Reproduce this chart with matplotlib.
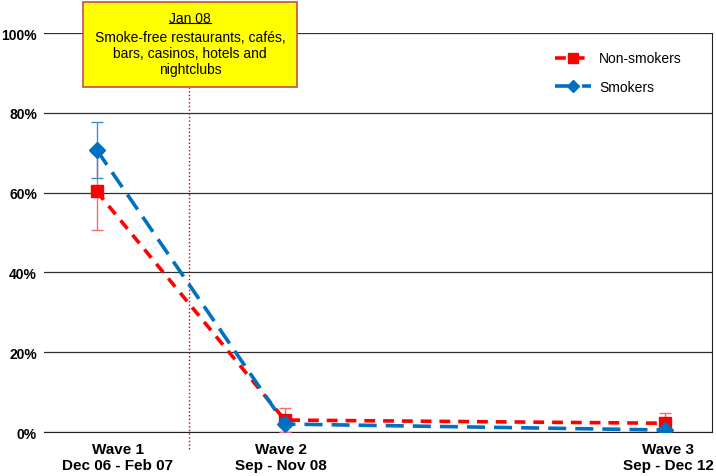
import numpy as np
import matplotlib.pyplot as plt
import matplotlib.transforms as mtransforms
from matplotlib.patches import Rectangle
from matplotlib.lines import Line2D

plt.rcParams['font.family'] = ['Liberation Sans', 'DejaVu Sans']

# survey waves (x in units of the Wave1->Wave2 gap)
wave_labels = ['Wave 1\nDec 06 - Feb 07', 'Wave 2\nSep - Nov 08', 'Wave 3\nSep - Dec 12']
wave_x = [0.0, 1.0, 3.02]
ban_x = 0.49  # Jan 08

non_smokers = [60.3, 3.0, 2.2]
non_smokers_err = [9.7, 3.0, 2.6]
smokers = [70.7, 2.0, 0.5]
smokers_err = [7.0, 0.0, 0.0]

red = '#FF0000'
blue = '#0070C0'

fig = plt.figure(figsize=(7.16, 4.77), dpi=100)
ax = fig.add_axes([0.0615, 0.0922, 0.9329, 0.8365])

ax.errorbar(wave_x, non_smokers, yerr=non_smokers_err, fmt='none',
            ecolor='#F26D6D', elinewidth=1, capsize=4, capthick=1, zorder=3)
ax.errorbar(wave_x, smokers, yerr=smokers_err, fmt='none',
            ecolor='#3E8FD0', elinewidth=1, capsize=4, capthick=1, zorder=3)

ax.plot(wave_x, non_smokers, color=red, lw=2.6, ls=(0, (3, 2.2)),
        marker='s', ms=9, label='Non-smokers', zorder=4)
ax.plot(wave_x, smokers, color=blue, lw=2.6, ls=(0, (5, 2.5)),
        marker='D', ms=8, label='Smokers', zorder=5)

ax.set_xlim(-0.28, 3.27)
ax.set_ylim(0, 100)
ax.set_yticks([0, 20, 40, 60, 80, 100])
ax.set_yticklabels([f'{v}%' for v in [0, 20, 40, 60, 80, 100]],
                   fontsize=10, fontweight='bold')
ax.yaxis.grid(True, color='#303030', lw=0.9)
ax.set_axisbelow(True)
ax.tick_params(axis='y', length=0, pad=5)
ax.set_xticks(wave_x)
ax.set_xticklabels(wave_labels, fontsize=11, fontweight='bold',
                   linespacing=1.25)
ax.tick_params(axis='x', length=0, pad=7)
# nudge labels the way the original sits them
for lab, dx in zip(ax.get_xticklabels(), [21, -4, 3]):
    lab.set_transform(lab.get_transform() +
                      mtransforms.ScaledTranslation(dx / 100, 0, fig.dpi_scale_trans))
for s in ['top', 'left']:
    ax.spines[s].set_visible(False)
for s in ['bottom', 'right']:
    ax.spines[s].set_color('#202020')

# Jan 08 ban line
ax.plot([ban_x, ban_x], [-4.3, 86.5], color='#C00000', lw=1, ls=':',
        clip_on=False, zorder=2)

# annotation box
fig.patches.append(Rectangle((83 / 716, 1 - 88 / 477), 214 / 716, 85 / 477,
                             transform=fig.transFigure, facecolor='#FFFF00',
                             edgecolor='#C0504D', lw=1.2, zorder=10))
cx = 190 / 716
t1 = fig.text(cx, 1 - 19 / 477, 'Jan 08', ha='center', va='center',
              fontsize=10, zorder=11)
fig.text(cx, 1 - 54 / 477,
         'Smoke-free restaurants, cafés,\nbars, casinos, hotels and\nnightclubs',
         ha='center', va='center', fontsize=10, linespacing=1.15, zorder=11)
fig.canvas.draw()
bb = t1.get_window_extent().transformed(fig.transFigure.inverted())
fig.add_artist(Line2D([bb.x0, bb.x1], [bb.y0 + 0.004, bb.y0 + 0.004],
                      transform=fig.transFigure, color='black', lw=0.8,
                      zorder=11))

ax.legend(loc='upper right', bbox_to_anchor=(0.974, 0.985), frameon=False,
          fontsize=10, handlelength=2.6, handletextpad=0.6, labelspacing=1.05,
          markerscale=0.75)

fig.savefig('out.png', dpi=100)
